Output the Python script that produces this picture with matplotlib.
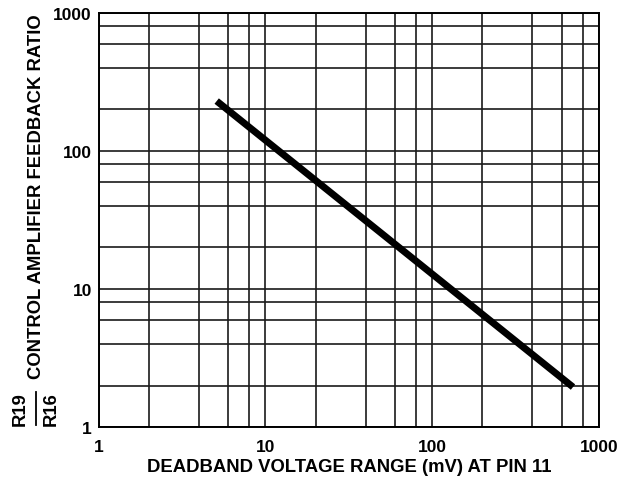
import matplotlib

matplotlib.use("Agg")
import matplotlib.pyplot as plt
from matplotlib.lines import Line2D
from matplotlib.ticker import FixedLocator, NullFormatter

plt.rcParams["font.family"] = ["Liberation Sans", "DejaVu Sans"]
plt.rcParams["font.weight"] = "bold"

# deadband range (mV) vs feedback ratio R19/R16
deadband_mv = [5.1, 700]
feedback_ratio = [230, 1.95]

major_ticks = [1, 10, 100, 1000]
major_labels = ["1", "10", "100", "1000"]
minor_ticks = [m * d for d in (1, 10, 100) for m in (2, 4, 6, 8)]

fig = plt.figure(figsize=(6.29, 4.81), dpi=100)
ax = fig.add_axes([0.157, 0.110, 0.795, 0.861])

ax.set_xscale("log")
ax.set_yscale("log")
ax.set_xlim(1, 1000)
ax.set_ylim(1, 1000)

ax.xaxis.set_major_locator(FixedLocator(major_ticks))
ax.yaxis.set_major_locator(FixedLocator(major_ticks))
ax.xaxis.set_minor_locator(FixedLocator(minor_ticks))
ax.yaxis.set_minor_locator(FixedLocator(minor_ticks))
ax.xaxis.set_minor_formatter(NullFormatter())
ax.yaxis.set_minor_formatter(NullFormatter())
ax.set_xticklabels(major_labels, fontsize=12.5, fontweight="bold")
ax.set_yticklabels(major_labels, fontsize=12.5, fontweight="bold")
ax.tick_params(which="both", length=0)
ax.tick_params(axis="x", pad=8.5)
ax.tick_params(axis="y", pad=5)

ax.grid(which="both", color="#1a1a1a", linewidth=1.2)
for s in ax.spines.values():
    s.set_linewidth(1.4)
    s.set_color("black")

ax.plot(deadband_mv, feedback_ratio, color="black", linewidth=5.0, solid_capstyle="butt", zorder=3)

ax.set_xlabel("DEADBAND VOLTAGE RANGE (mV) AT PIN 11", fontsize=13.3, fontweight="bold", labelpad=3)

# y label: fraction R19/R16 followed by the text
fig.text(37 / 629, 1 - 197 / 481, "CONTROL AMPLIFIER FEEDBACK RATIO", rotation=90,
         ha="center", va="center", fontsize=13.3, fontweight="bold")
fig.text(20 / 629, 1 - 409 / 481, "R19", rotation=90, ha="center", va="center",
         fontsize=13.3, fontweight="bold")
fig.text(51 / 629, 1 - 409 / 481, "R16", rotation=90, ha="center", va="center",
         fontsize=13.3, fontweight="bold")
fig.add_artist(Line2D([36 / 629, 36 / 629], [1 - 393 / 481, 1 - 426 / 481],
                      color="black", linewidth=1.3, transform=fig.transFigure))

fig.savefig("out.png", dpi=100)
